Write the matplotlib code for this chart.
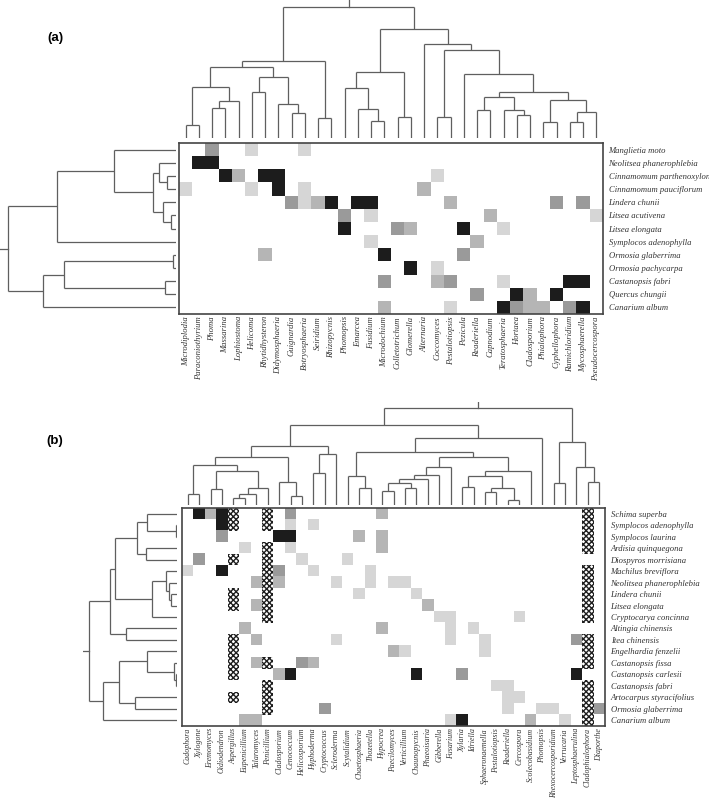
import matplotlib
matplotlib.use('Agg')
import matplotlib.pyplot as plt
import numpy as np
from matplotlib.patches import Rectangle
from matplotlib.colors import to_rgb

# ---------------- Panel (a) data ----------------
a_cols = ["Microdiplodia", "Paraconiothyrium", "Phoma", "Massarina", "Lophiostoma",
          "Helicoma", "Rhytidhysteron", "Didymosphaeria", "Guignardia", "Botryosphaeria",
          "Seiridium", "Rhizopycnis", "Phomopsis", "Emarcea", "Fusidium", "Microdochium",
          "Colletotrichum", "Glomerella", "Alternaria", "Coccomyces", "Pestalotiopsis",
          "Pezicula", "Readeriella", "Capnodium", "Teratosphaeria", "Hortaea",
          "Cladosporium", "Phialophora", "Cyphellophora", "Ramichloridium",
          "Mycosphaerella", "Pseudocercospora"]
a_rows = ["Manglietia moto", "Neolitsea phanerophlebia", "Cinnamomum parthenoxylon",
          "Cinnamomum pauciflorum", "Lindera chunii", "Litsea acutivena", "Litsea elongata",
          "Symplocos adenophylla", "Ormosia glaberrima", "Ormosia pachycarpa",
          "Castanopsis fabri", "Quercus chungii", "Canarium album"]
# gray level per cell: 1 light ... 4 black (column index -> level)
a_cells = [
    {2: 3, 5: 1, 9: 1},
    {1: 4, 2: 4},
    {3: 4, 4: 2, 6: 4, 7: 4, 19: 1},
    {0: 1, 5: 1, 7: 4, 9: 1, 18: 2},
    {8: 3, 9: 1, 10: 2, 11: 4, 13: 4, 14: 4, 20: 2, 28: 3, 30: 3},
    {12: 3, 14: 1, 23: 2, 31: 1},
    {12: 4, 16: 3, 17: 2, 21: 4, 24: 1},
    {14: 1, 22: 2},
    {6: 2, 15: 4, 21: 3},
    {17: 4, 19: 1},
    {15: 3, 19: 2, 20: 3, 24: 1, 29: 4, 30: 4},
    {22: 3, 25: 4, 26: 2, 28: 4},
    {15: 2, 20: 1, 24: 4, 25: 3, 26: 2, 27: 2, 29: 3, 30: 4},
]
# dendrograms: (merge height, left, right); ints are leaf indices
a_col_tree = (1.0,
    (0.59,
        (0.539,
            (0.387, (0.096, 0, 1), (0.286, (0.228, 2, 3), 4)),
            (0.463, (0.354, 5, 6), (0.258, 7, (0.19, 8, 9)))),
        (0.149, 10, 11)),
    (0.83,
        (0.501,
            (0.38, 12, (0.22, 13, (0.129, 14, 15))),
            (0.157, 16, 17)),
        (0.714,
            18,
            (0.671,
                (0.16, 19, 20),
                (0.489,
                    21,
                    (0.354,
                        (0.311, (0.21, 22, 23), (0.21, 24, (0.177, 25, 26))),
                        (0.291, (0.119, 27, 28), (0.197, (0.119, 29, 30), 31))))))))
a_row_tree = (1.0,
    (0.711,
        (0.367, 0, (0.137, (0.1, 1, (0.054, 2, 3)), (0.078, 4, (0.03, 5, 6)))),
        7),
    (0.795,
        (0.667, (0.02, 8, 9), (0.064, 10, 11)),
        12))

# ---------------- Panel (b) data ----------------
b_cols = ["Cadophora", "Xylogone", "Eremomyces", "Oidiodendron", "Aspergillus",
          "Eupenicillium", "Talaromyces", "Penicillium", "Cladosporium", "Cenococcum",
          "Helicosporium", "Hyphoderma", "Cryptococcus", "Scleroderma", "Scytalidium",
          "Chaetosphaeria", "Thozetella", "Hypocrea", "Paecilomyces", "Verticillium",
          "Chaunopycnis", "Phaeoisaria", "Gibberella", "Fusarium", "Xylaria", "Idriella",
          "Sphaeronaemella", "Pestalotiopsis", "Readeriella", "Cercospora",
          "Scolecobasidium", "Phomopsis", "Rhexocercosporidium", "Verrucaria",
          "Leptosphaerulina", "Cladophialophora", "Diaporthe"]
b_rows = ["Schima superba", "Symplocos adenophylla", "Symplocos laurina",
          "Ardisia quinquegona", "Diospyros morrisiana", "Machilus breviflora",
          "Neolitsea phanerophlebia", "Lindera chunii", "Litsea elongata",
          "Cryptocarya concinna", "Altingia chinensis", "Itea chinensis",
          "Engelhardia fenzelii", "Castanopsis fissa", "Castanopsis carlesii",
          "Castanopsis fabri", "Artocarpus styracifolius", "Ormosia glaberrima",
          "Canarium album"]
H = 'H'  # hatched cell
b_cells = [
    {1: 4, 2: 2, 3: 4, 4: H, 7: H, 9: 3, 17: 2, 35: H},
    {3: 4, 4: H, 7: H, 9: 1, 11: 1, 35: H},
    {3: 3, 8: 4, 9: 4, 15: 2, 17: 2, 35: H},
    {5: 1, 7: H, 9: 1, 17: 2, 35: H},
    {1: 3, 4: H, 7: H, 10: 1, 14: 1},
    {0: 1, 3: 4, 7: H, 8: 3, 11: 1, 16: 1, 35: H},
    {6: 2, 7: H, 8: 2, 13: 1, 16: 1, 18: 1, 19: 1, 35: H},
    {4: H, 7: H, 15: 1, 20: 1, 35: H},
    {4: H, 6: 2, 7: H, 21: 2, 35: H},
    {7: H, 22: 1, 23: 1, 29: 1, 35: H},
    {5: 2, 17: 2, 23: 1, 25: 1},
    {4: H, 6: 2, 13: 1, 23: 1, 26: 1, 34: 3, 35: H},
    {4: H, 18: 2, 19: 1, 26: 1, 35: H},
    {4: H, 6: 2, 7: H, 10: 3, 11: 2, 35: H},
    {4: H, 8: 2, 9: 4, 20: 4, 24: 3, 34: 4},
    {7: H, 27: 1, 28: 1, 35: H},
    {4: H, 7: H, 28: 1, 29: 1, 35: H},
    {7: H, 12: 3, 28: 1, 31: 1, 32: 1, 35: H, 36: 3},
    {5: 2, 6: 2, 23: 1, 24: 4, 30: 2, 33: 1, 35: H},
]
b_col_tree = (1.0,
    (0.825,
        (0.608,
            (0.495,
                (0.412, (0.113, 0, 1),
                    (0.351, (0.165, 2, 3), (0.175, (0.113, (0.072, 4, 5), 6), 7))),
                (0.237, 8, (0.093, 9, 10))),
            (0.526, (0.33, 11, 12), 13)),
        (0.691,
            (0.546,
                (0.299, 14, (0.175, 15, 16)),
                (0.495,
                    (0.392, (0.309, (0.268, (0.227, (0.144, 17, 18), (0.175, 19, 20)), 21), 22), 23),
                    (0.351, (0.299, (0.186, 24, 25), (0.18, (0.134, 26, 27), (0.052, 28, 29))), 30))),
            31)),
    (0.649, (0.227, 32, 33), (0.392, 34, (0.237, 35, 36))))
b_row_tree = (1.0,
    (0.756,
        (0.71,
            (0.45, (0.344, 0, (0.011, 1, 2)), (0.355, 3, 4)),
            (0.279, (0.122, 5, (0.095, 6, (0.069, 7, 8))), 9)),
        (0.58, 10, 11)),
    (0.84,
        (0.656, (0.336, 12, (0.031, 13, (0.011, 14, 15))), (0.477, 16, 17)),
        18))

# ---------------- styling ----------------
GRAYS = {1: '#d6d6d6', 2: '#b5b5b5', 3: '#9a9a9a', 4: '#1c1c1c'}
LINE = '#5f5f5f'
FRAME = '#444444'
SERIF = ['Liberation Serif', 'DejaVu Serif']
FS = 6.2
plt.rcParams['hatch.linewidth'] = 1.0

W, Hh = 709.0, 800.0
fig = plt.figure(figsize=(7.09, 8.0), dpi=100)


def box(x0, y0, x1, y1):
    return [x0 / W, 1 - y1 / Hh, (x1 - x0) / W, (y1 - y0) / Hh]


def tree_segments(tree):
    segs = []

    def rec(node):
        if isinstance(node, int):
            return float(node), 0.0
        h, l, r = node
        xl, hl = rec(l)
        xr, hr = rec(r)
        segs.append(((xl, xl), (hl, h)))
        segs.append(((xr, xr), (hr, h)))
        segs.append(((xl, xr), (h, h)))
        return (xl + xr) / 2, h

    x, h = rec(tree)
    return x, h, segs


def draw_top(rect, tree, n, stub):
    ax = fig.add_axes(rect)
    x, h, segs = tree_segments(tree)
    for xs, ys in segs:
        ax.plot(xs, ys, color=LINE, lw=0.9, solid_capstyle='butt')
    ax.plot([x, x], [h, h + stub], color=LINE, lw=0.9)
    ax.set_xlim(-0.5, n - 0.5)
    ax.set_ylim(0, h + stub)
    ax.axis('off')


def draw_left(rect, tree, n, stub):
    ax = fig.add_axes(rect)
    y, h, segs = tree_segments(tree)
    for ys, xs in segs:
        ax.plot(xs, ys, color=LINE, lw=0.9, solid_capstyle='butt')
    ax.plot([h, h + stub], [y, y], color=LINE, lw=0.9)
    ax.set_ylim(n - 0.5, -0.5)
    ax.set_xlim(h + stub, 0)
    ax.axis('off')


def draw_heat(rect, cells, cols, rows, xfs):
    ax = fig.add_axes(rect)
    nr, nc = len(rows), len(cols)
    rgb = np.ones((nr, nc, 3))
    for r, row in enumerate(cells):
        for c, v in row.items():
            if v == H:
                ax.add_patch(Rectangle((c - 0.5, r - 0.5), 1, 1, facecolor='white',
                                       edgecolor='#1e1e1e', hatch='xxxxxx', lw=0, zorder=2))
            else:
                rgb[r, c] = to_rgb(GRAYS[v])
    ax.imshow(rgb, aspect='auto', interpolation='nearest',
              extent=(-0.5, nc - 0.5, nr - 0.5, -0.5), zorder=1)
    ax.set_xlim(-0.5, nc - 0.5)
    ax.set_ylim(nr - 0.5, -0.5)
    ax.set_xticks(range(nc))
    ax.set_xticklabels(cols, rotation=90, fontsize=xfs, fontstyle='italic',
                       family=SERIF, color='#333333')
    ax.yaxis.tick_right()
    ax.set_yticks(range(nr))
    ax.set_yticklabels(rows, fontsize=FS, fontstyle='italic', family=SERIF,
                       color='#333333')
    ax.tick_params(axis='x', length=0, pad=1.5)
    ax.tick_params(axis='y', length=0, pad=4)
    for s in ax.spines.values():
        s.set_color(FRAME)
        s.set_linewidth(1.2)
    return ax


# ---------------- panel (a) ----------------
draw_heat(box(179, 143, 603, 314), a_cells, a_cols, a_rows, FS)
draw_top(box(179, 0, 603, 138), a_col_tree, len(a_cols), 0.053)
draw_left(box(0, 143, 176, 314), a_row_tree, len(a_rows), 0.05)
fig.text(55 / W, 1 - 38 / Hh, '(a)', fontsize=9.5, fontweight='bold',
         family=['Liberation Sans', 'DejaVu Sans'], ha='center', va='center')

# ---------------- panel (b) ----------------
draw_heat(box(182, 508, 605, 726), b_cells, b_cols, b_rows, 5.7)
draw_top(box(182, 402, 605, 505), b_col_tree, len(b_cols), 0.062)
draw_left(box(83, 508, 177, 726), b_row_tree, len(b_rows), 0.068)
fig.text(55 / W, 1 - 441 / Hh, '(b)', fontsize=9.5, fontweight='bold',
         family=['Liberation Sans', 'DejaVu Sans'], ha='center', va='center')

fig.savefig('out.png', dpi=100)
